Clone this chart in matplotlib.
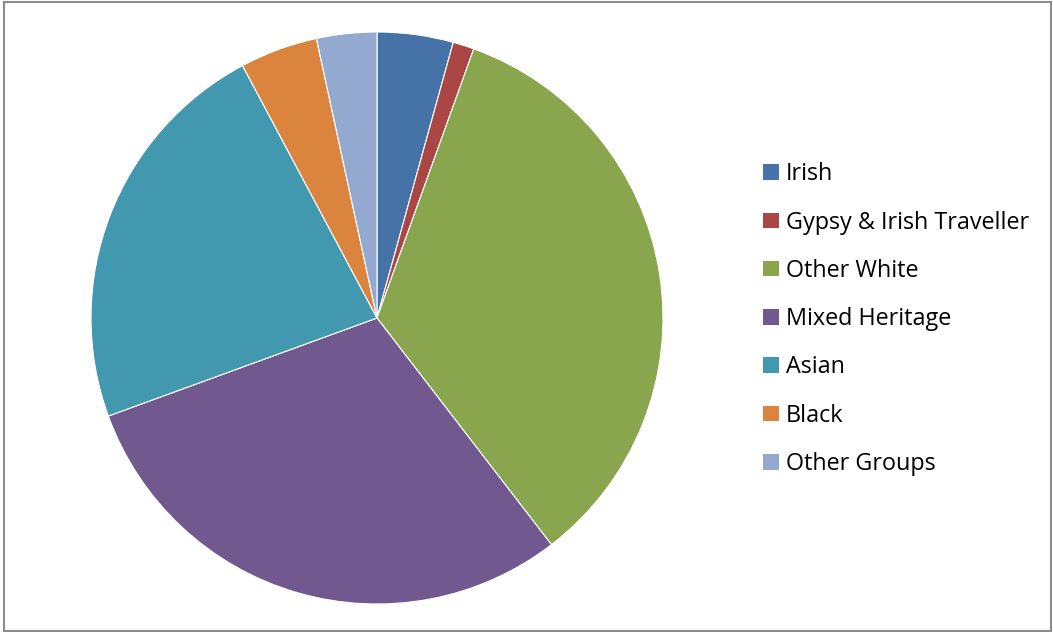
import matplotlib.pyplot as plt
from matplotlib.patches import Rectangle, Patch

# ethnic group shares (percent)
groups = ['Irish', 'Gypsy & Irish Traveller', 'Other White', 'Mixed Heritage',
          'Asian', 'Black', 'Other Groups']
shares = [4.3, 1.2, 34.1, 29.9, 22.8, 4.4, 3.4]
colors = ['#4572A7', '#AA4643', '#89A54E', '#71588F', '#4198AF', '#DB843D', '#93A9CF']

W, H = 1053, 632
fig = plt.figure(figsize=(W / 100, H / 100), dpi=100)

# pie axes: centre (377, 318) px, radius 286 px
cx, cy, r = 377, 318, 286
ax = fig.add_axes([(cx - r) / W, (H - cy - r) / H, 2 * r / W, 2 * r / H])
ax.pie(shares, colors=colors, startangle=90, counterclock=False, radius=1,
       wedgeprops=dict(edgecolor='white', linewidth=0.8))
ax.set_xlim(-1, 1)
ax.set_ylim(-1, 1)
ax.set_aspect('equal')
ax.axis('off')

# legend on the right
handles = [Patch(facecolor=c, edgecolor='none') for c in colors]
fig.legend(handles, groups, loc='upper left', bbox_to_anchor=(754 / W, 1 - 153 / H),
           frameon=False, prop={'family': 'Open Sans', 'size': 16.8},
           handlelength=0.65, handleheight=0.65, handletextpad=0.3,
           labelspacing=1.04, borderaxespad=0)

# outer chart border
fig.add_artist(Rectangle((4 / W, 1 / H), (W - 6) / W, (H - 3) / H,
                         transform=fig.transFigure, fill=False,
                         edgecolor='#8c8c8c', linewidth=1.5))

fig.savefig('out.png', dpi=100)
